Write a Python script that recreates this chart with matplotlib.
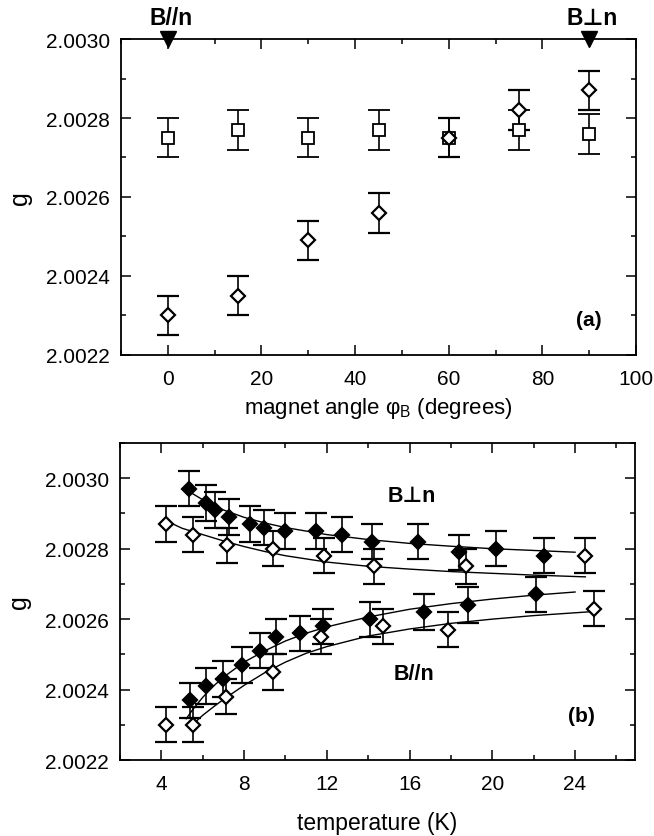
import numpy as np
import matplotlib
matplotlib.use("Agg")
import matplotlib.pyplot as plt
from matplotlib.ticker import MultipleLocator, FormatStrFormatter

plt.rcParams['font.family'] = ['Liberation Sans', 'DejaVu Sans']
plt.rcParams['mathtext.fontset'] = 'custom'
plt.rcParams['mathtext.rm'] = 'Liberation Sans'

# panel (a): g vs magnet angle
angle = [0, 15, 30, 45, 60, 75, 90]
g_square = [2.00275, 2.00277, 2.00275, 2.00277, 2.00275, 2.00277, 2.00276]
g_diamond = [2.00230, 2.00235, 2.00249, 2.00256, 2.00275, 2.00282, 2.00287]
err = 0.00005

# panel (b): g vs temperature
T_perp_fill = [5.35, 6.17, 6.61, 7.28, 8.28, 8.96, 9.99, 11.47, 12.74, 14.2, 16.42, 18.37, 20.18, 22.49]
g_perp_fill = [2.00297, 2.00293, 2.00291, 2.00289, 2.00287, 2.00286, 2.00285, 2.00285, 2.00284,
               2.00282, 2.00282, 2.00279, 2.00280, 2.00278]
T_perp_open = [4.22, 5.51, 7.18, 9.39, 11.88, 14.3, 18.73, 24.5]
g_perp_open = [2.00287, 2.00284, 2.00281, 2.00280, 2.00278, 2.00275, 2.00275, 2.00278]
T_par_fill = [5.37, 6.17, 7.0, 7.92, 8.77, 9.53, 10.7, 11.8, 14.11, 16.7, 18.83, 22.09]
g_par_fill = [2.00237, 2.00241, 2.00243, 2.00247, 2.00251, 2.00255, 2.00256, 2.00258,
              2.00260, 2.00262, 2.00264, 2.00267]
T_par_open = [4.22, 5.51, 7.12, 9.39, 11.74, 14.72, 17.87, 24.9]
g_par_open = [2.00230, 2.00230, 2.00238, 2.00245, 2.00255, 2.00258, 2.00257, 2.00263]

# fitted curves
fitT_perp_fill = [5.4, 6, 7, 8, 9, 10, 12, 14, 16, 18, 20, 22, 24]
fitg_perp_fill = [2.00296, 2.002939, 2.00291, 2.002889, 2.002873, 2.00286, 2.00284, 2.002826,
                  2.002815, 2.002807, 2.0028, 2.002795, 2.00279]
fitT_perp_open = [4.2, 5, 6, 7, 8, 9, 10, 12, 14, 16, 18, 20, 22, 24.5]
fitg_perp_open = [2.00288, 2.002858, 2.00284, 2.002822, 2.002806, 2.002792, 2.00278, 2.002762,
                  2.00275, 2.002742, 2.002735, 2.00273, 2.002725, 2.00272]
fitT_par_fill = [5.2, 5.5, 6, 6.5, 7, 8, 9, 10, 11, 12, 14, 16, 18, 20, 22, 24]
fitg_par_fill = [2.002317, 2.002342, 2.002378, 2.002409, 2.002435, 2.002478, 2.00251, 2.002538,
                 2.00256, 2.002578, 2.002606, 2.002628, 2.002644, 2.002657, 2.002668, 2.002677]
fitT_par_open = [5.5, 6, 6.5, 7, 8, 9, 10, 11, 12, 14, 16, 18, 20, 22, 25]
fitg_par_open = [2.0023, 2.002327, 2.00235, 2.002372, 2.002412, 2.002448, 2.002478, 2.002503,
                 2.002522, 2.002552, 2.002572, 2.002588, 2.0026, 2.00261, 2.002622]

fig = plt.figure(figsize=(6.54, 8.37), dpi=100)
ax1 = fig.add_axes([0.185, 0.5747, 0.7875, 0.3775])
ax2 = fig.add_axes([0.1835, 0.0908, 0.7875, 0.3787])

eb = dict(ls='none', color='black', ecolor='black', elinewidth=1.2, capsize=8, capthick=1.2)

ax1.errorbar(angle, g_square, yerr=err, marker='s', ms=8, mfc='white', mec='black', mew=1.3, **eb)
ax1.errorbar(angle, g_diamond, yerr=err, marker='D', ms=7.5, mfc='white', mec='black', mew=1.6, **eb)
ax1.plot([0, 90], [2.0030, 2.0030], 'v', color='black', ms=11, clip_on=False, zorder=5)
for x, lab in [(0, 'B//n'), (90, 'B\u22a5n')]:
    ax1.annotate(lab, xy=(x, 2.0030), xytext=(2, 11), textcoords='offset points',
                 ha='center', va='baseline', fontsize=16.5, fontweight='bold', annotation_clip=False)
ax1.text(90, 2.00229, '(a)', ha='center', va='center', fontsize=15, fontweight='bold')
ax1.set_xlim(-10, 100)
ax1.set_ylim(2.0022, 2.0030)
ax1.xaxis.set_major_locator(MultipleLocator(20))
ax1.xaxis.set_minor_locator(MultipleLocator(10))
ax1.set_xlabel('magnet angle \u03c6$_{\\mathrm{B}}$ (degrees)', fontsize=16, labelpad=5)

for T, g, fc in [(T_perp_fill, g_perp_fill, 'black'), (T_par_fill, g_par_fill, 'black'),
                 (T_perp_open, g_perp_open, 'white'), (T_par_open, g_par_open, 'white')]:
    ax2.errorbar(T, g, yerr=err, marker='D', ms=7.5, mfc=fc, mec='black', mew=1.6, **eb)
for T, g in [(fitT_perp_fill, fitg_perp_fill), (fitT_perp_open, fitg_perp_open),
             (fitT_par_fill, fitg_par_fill), (fitT_par_open, fitg_par_open)]:
    ax2.plot(T, g, color='black', lw=1.0)
ax2.text(16.1, 2.00295, 'B\u22a5n', ha='center', va='center', fontsize=15.5, fontweight='bold')
ax2.text(16.2, 2.002445, 'B//n', ha='center', va='center', fontsize=15.5, fontweight='bold')
ax2.text(24.3, 2.002326, '(b)', ha='center', va='center', fontsize=15, fontweight='bold')
ax2.set_xlim(2, 26.9)
ax2.set_ylim(2.0022, 2.0031)
ax2.xaxis.set_major_locator(MultipleLocator(4))
ax2.xaxis.set_minor_locator(MultipleLocator(2))
ax2.set_xlabel('temperature (K)', fontsize=16.5, labelpad=13)

for ax in (ax1, ax2):
    ax.yaxis.set_major_locator(MultipleLocator(0.0002))
    ax.yaxis.set_minor_locator(MultipleLocator(0.0001))
    ax.yaxis.set_major_formatter(FormatStrFormatter('%.4f'))
    ax.tick_params(which='both', direction='in', top=True, right=True, labelsize=15, width=1.1)
    ax.tick_params(which='major', length=7.5, pad=10)
    ax.tick_params(which='minor', length=3.5)
    ax.tick_params(axis='y', which='major', pad=8)
    ax.set_ylabel('g', fontsize=18, labelpad=10)
    for s in ax.spines.values():
        s.set_linewidth(1.3)

fig.savefig('out.png', dpi=100)
